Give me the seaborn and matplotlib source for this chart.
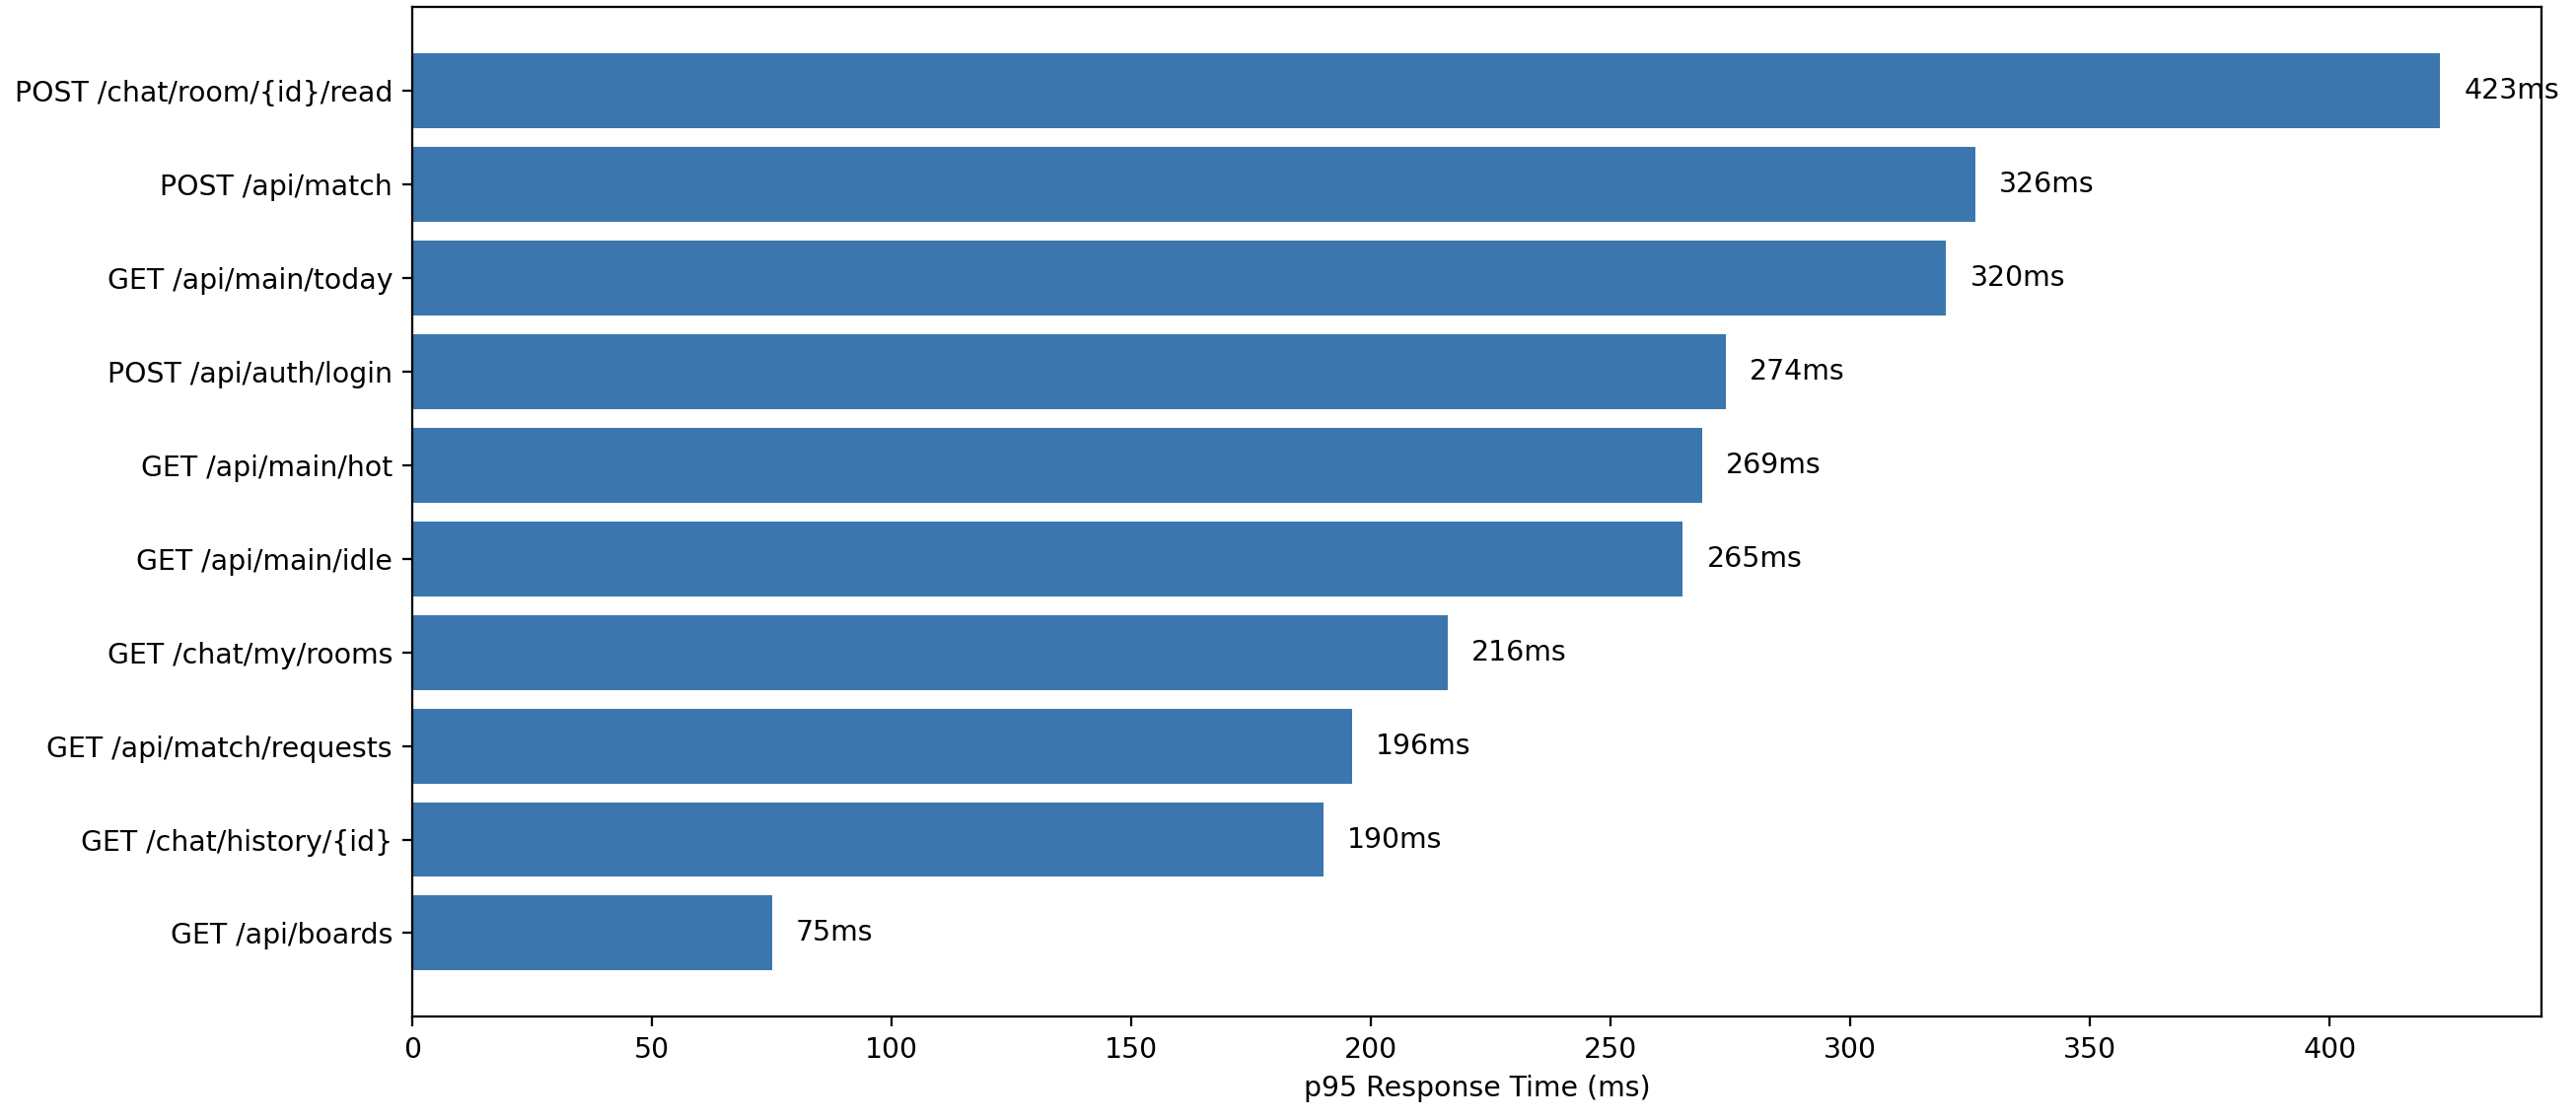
import matplotlib
matplotlib.use('Agg')
import matplotlib.pyplot as plt
import seaborn as sns
import pandas as pd

# p95 latency per endpoint
endpoints = ['POST /chat/room/{id}/read', 'POST /api/match', 'GET /api/main/today',
             'POST /api/auth/login', 'GET /api/main/hot', 'GET /api/main/idle',
             'GET /chat/my/rooms', 'GET /api/match/requests', 'GET /chat/history/{id}',
             'GET /api/boards']
p95_ms = [423, 326, 320, 274, 269, 265, 216, 196, 190, 75]

df = pd.DataFrame({'endpoint': endpoints, 'p95': p95_ms})

dpi = 204
fig, ax = plt.subplots(figsize=(2612 / dpi, 1136 / dpi), dpi=dpi)
sns.barplot(data=df, x='p95', y='endpoint', orient='h', color='#3b76ae',
            saturation=1, linewidth=0, width=0.8, ax=ax)

# match plain matplotlib margins
n = len(endpoints)
ax.set_ylim(n - 1 + 0.4 + 0.049 * n, -0.4 - 0.049 * n)
ax.set_xlim(0, max(p95_ms) * 1.05)

for i, v in enumerate(p95_ms):
    ax.text(v + 5, i, f'{v}ms', va='center', ha='left', fontsize=10)

ax.set_xlabel('p95 Response Time (ms)')
ax.set_ylabel('')
plt.subplots_adjust(left=0.160, right=0.9866, top=0.9938, bottom=0.0924)
plt.savefig('out.png', dpi=dpi)
